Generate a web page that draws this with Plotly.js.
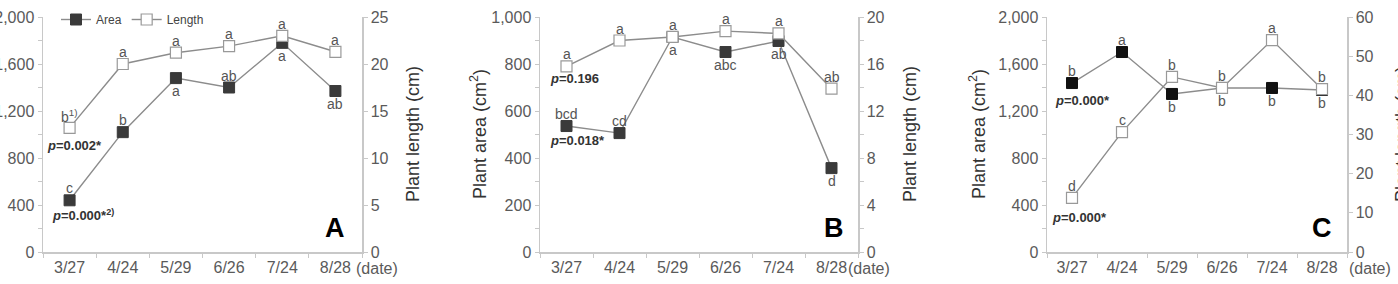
<!DOCTYPE html>
<html>
<head>
<meta charset="utf-8">
<script src="https://cdn.plot.ly/plotly-3.0.1.min.js"></script>
<style>html,body{margin:0;padding:0;background:#fff;}#chart{width:1398px;height:284px;}</style>
</head>
<body>
<div id="chart"></div>
<script>
// ---- data ----
const dates = ['3/27', '4/24', '5/29', '6/26', '7/24', '8/28'];

const areaA   = [440, 1020, 1480, 1400, 1780, 1370];
const lengthA = [13.2, 20.0, 21.2, 21.9, 23.0, 21.3];
const areaB   = [536, 506, 915, 851, 898, 357];
const lengthB = [15.8, 18.0, 18.3, 18.8, 18.6, 13.9];
const areaC   = [1438, 1702, 1345, 1396, 1396, 1379];
const lengthC = [13.8, 30.6, 44.7, 41.9, 54.1, 41.6];

const letAreaA = ['c', 'b', 'a', 'ab', 'a', 'ab'];
const posAreaA = ['up', 'up', 'down', 'up', 'down', 'down'];
const letLenA  = ['b<sup>1)</sup>', 'a', 'a', 'a', 'a', 'a'];
const letAreaB = ['bcd', 'cd', 'a', 'abc', 'ab', 'd'];
const posAreaB = ['up', 'up', 'down', 'down', 'down', 'down'];
const letLenB  = ['a', 'a', 'a', 'a', 'a', 'ab'];
const letAreaC = ['b', 'a', 'b', 'b', 'b', 'b'];
const posAreaC = ['up', 'up', 'down', 'down', 'down', 'down'];
const letLenC  = ['d', 'c', 'b', 'b', 'a', 'b'];

const pTexts = {
  A: ['<b><i>p</i>=0.002*</b>', '<b><i>p</i>=0.000*<sup>2)</sup></b>'],
  B: ['<b><i>p</i>=0.196</b>', '<b><i>p</i>=0.018*</b>'],
  C: ['<b><i>p</i>=0.000*</b>', '<b><i>p</i>=0.000*</b>']
};

// ---- styles ----
const W = 1398, H = 284;
const FONT = 'Liberation Sans, Arial, sans-serif';
const lineCol = '#8c8c8c';
const axCol = '#c8c8c8';
const tickFontCol = '#5a5a5a';
const yBot = (H - 252) / H, yTop = (H - 17) / H;
const px = v => v / W, py = v => (H - v) / H;

function areaTrace(y, xa, ya, fill, show) {
  return {x: dates, y: y, xaxis: xa, yaxis: ya, type: 'scatter', mode: 'lines+markers', name: 'Area',
    showlegend: show, line: {color: lineCol, width: 1.4},
    marker: {symbol: 'square', size: 11, color: fill, line: {color: fill, width: 1}}};
}
function lenTrace(y, xa, ya, show) {
  return {x: dates, y: y, xaxis: xa, yaxis: ya, type: 'scatter', mode: 'lines+markers', name: 'Length',
    showlegend: show, line: {color: lineCol, width: 1.4},
    marker: {symbol: 'square', size: 11, color: '#fff', line: {color: '#999', width: 1.2}}};
}

const data = [
  areaTrace(areaA, 'x', 'y', '#3a3a3a', true),
  lenTrace(lengthA, 'x', 'y2', true),
  areaTrace(areaB, 'x2', 'y3', '#3a3a3a', false),
  lenTrace(lengthB, 'x2', 'y4', false),
  areaTrace(areaC, 'x3', 'y5', '#111', false),
  lenTrace(lengthC, 'x3', 'y6', false)
];

function xAx(dom, anchor) {
  return {domain: dom, anchor: anchor, type: 'category', range: [-0.5, 5.5], tickson: 'boundaries',
    ticks: 'outside', ticklen: 4, tickcolor: axCol, showline: true, linecolor: axCol, linewidth: 1.5,
    showgrid: false, zeroline: false, tickfont: {family: FONT, size: 16, color: tickFontCol}, fixedrange: true};
}
function yAx(anchor, rng, dtick, minor, side, overlay) {
  const a = {domain: [yBot, yTop], anchor: anchor, range: rng, dtick: dtick, tick0: 0, side: side,
    ticks: 'outside', ticklen: 4, tickcolor: axCol, showline: true, linecolor: axCol, linewidth: 1.5,
    showgrid: false, zeroline: false, tickformat: ',d', tickfont: {family: FONT, size: 16, color: tickFontCol},
    fixedrange: true};
  if (minor) a.minor = {dtick: minor, ticks: 'outside', ticklen: 4, tickcolor: axCol, showgrid: false};
  if (overlay) a.overlaying = overlay;
  return a;
}

const ann = [];
function letters(xref, yref, ys, labels, pos) {
  labels.forEach((t, i) => {
    const up = (pos ? pos[i] : 'up') === 'up';
    ann.push({xref: xref, yref: yref, x: dates[i], y: ys[i], text: t, showarrow: false,
      yshift: up ? 12 : -13, font: {family: FONT, size: 14, color: '#555'}});
  });
}
letters('x', 'y', areaA, letAreaA, posAreaA);
letters('x', 'y2', lengthA, letLenA, null);
letters('x2', 'y3', areaB, letAreaB, posAreaB);
letters('x2', 'y4', lengthB, letLenB, null);
letters('x3', 'y5', areaC, letAreaC, posAreaC);
letters('x3', 'y6', lengthC, letLenC, null);

function txt(x, y, t, size, opts) {
  ann.push(Object.assign({xref: 'paper', yref: 'paper', x: px(x), y: py(y), text: t, showarrow: false,
    xanchor: 'center', yanchor: 'middle', font: {family: FONT, size: size, color: '#333'}}, opts || {}));
}
// p-values
const pf = {family: FONT, size: 13, color: '#333'};
txt(45, 145, pTexts.A[0], 13, {xanchor: 'left', font: pf});
txt(50, 215, pTexts.A[1], 13, {xanchor: 'left', font: pf});
txt(548, 79, pTexts.B[0], 13, {xanchor: 'left', font: pf});
txt(548, 140, pTexts.B[1], 13, {xanchor: 'left', font: pf});
txt(1053, 100, pTexts.C[0], 13, {xanchor: 'left', font: pf});
txt(1050, 217, pTexts.C[1], 13, {xanchor: 'left', font: pf});
// (date)
const df = {family: FONT, size: 16, color: tickFontCol};
txt(377, 268, '(date)', 16, {font: df});
txt(869, 268, '(date)', 16, {font: df});
txt(1370, 268, '(date)', 16, {font: df});
// panel letters
const lf = {family: FONT, size: 27, color: '#000'};
txt(335, 228, '<b>A</b>', 27, {font: lf});
txt(834, 228, '<b>B</b>', 27, {font: lf});
txt(1322, 228, '<b>C</b>', 27, {font: lf});
// axis titles
const tf = {family: FONT, size: 18, color: '#333'};
txt(-19, 134, 'Plant area (cm<sup>2</sup>)', 18, {textangle: -90, font: tf});
txt(413, 134, 'Plant length (cm)', 18, {textangle: -90, font: tf});
txt(478, 134, 'Plant area (cm<sup>2</sup>)', 18, {textangle: -90, font: tf});
txt(910, 134, 'Plant length (cm)', 18, {textangle: -90, font: tf});
txt(977, 134, 'Plant area (cm<sup>2</sup>)', 18, {textangle: -90, font: tf});
txt(1402, 134, 'Plant length (cm)', 18, {textangle: -90, font: tf});

const layout = {
  width: W, height: H, margin: {l: 0, r: 0, t: 0, b: 0},
  paper_bgcolor: '#fff', plot_bgcolor: '#fff',
  showlegend: true,
  legend: {orientation: 'h', x: px(56), y: py(5), xanchor: 'left', yanchor: 'top',
    font: {family: FONT, size: 12, color: '#444'}, itemwidth: 30, bgcolor: 'rgba(0,0,0,0)',
    tracegroupgap: 0},
  xaxis: xAx([px(43), px(362)], 'y'),
  yaxis: yAx('x', [0, 2000], 400, 200, 'left'),
  yaxis2: yAx('x', [0, 25], 5, null, 'right', 'y'),
  xaxis2: xAx([px(540), px(858)], 'y3'),
  yaxis3: yAx('x2', [0, 1000], 200, 100, 'left'),
  yaxis4: yAx('x2', [0, 20], 4, 2, 'right', 'y3'),
  xaxis3: xAx([px(1047), px(1347)], 'y5'),
  yaxis5: yAx('x3', [0, 2000], 400, 200, 'left'),
  yaxis6: yAx('x3', [0, 60], 10, null, 'right', 'y5'),
  annotations: ann
};

Plotly.newPlot('chart', data, layout, {displayModeBar: false, staticPlot: true});
</script>
</body>
</html>
